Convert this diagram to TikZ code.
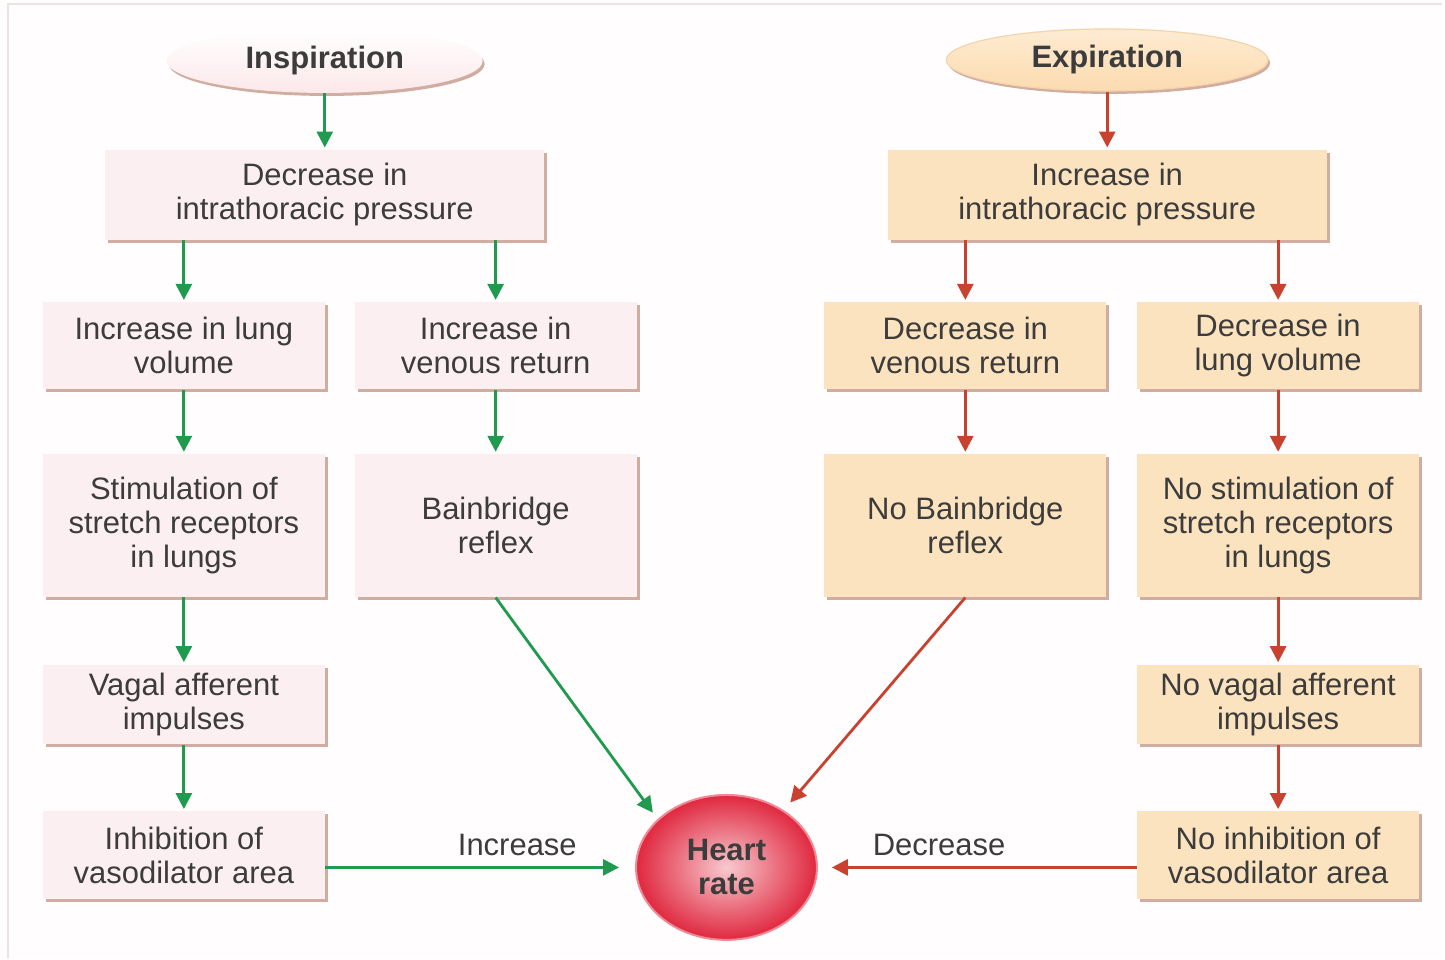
\documentclass[tikz,border=0pt]{standalone}
\usepackage{fontspec}
\setmainfont{Liberation Sans}
\usetikzlibrary{arrows.meta,positioning,shapes.geometric,shadows}

\definecolor{inspfill}{HTML}{FBEFF1}
\definecolor{expfill}{HTML}{FCE3BF}
\definecolor{inspline}{HTML}{1F9A4E}
\definecolor{expline}{HTML}{C9412F}
\definecolor{boxshadow}{HTML}{C9A092}
\definecolor{txt}{HTML}{3C3C3C}
\definecolor{heartred}{HTML}{E0283F}
\definecolor{framecol}{HTML}{EDE2E2}

\begin{document}
\begin{tikzpicture}[x=0.5pt,y=-0.5pt,node distance=90pt,on grid,shorten >=1pt,
		font=\fontsize{15.5}{17}\selectfont,text=txt]
		\tikzstyle{box}=[rectangle, align=center, inner sep=0pt, minimum width=141pt, minimum height=43.5pt,
			drop shadow={shadow xshift=1.5pt, shadow yshift=-1.5pt, fill=boxshadow, opacity=0.85}]
		\tikzstyle{insp box}=[box, fill=inspfill]
		\tikzstyle{exp box}=[box, fill=expfill]
		\tikzstyle{phase}=[ellipse, inner sep=0pt, font=\fontsize{15.5}{17}\selectfont\bfseries,
			drop shadow={shadow xshift=1pt, shadow yshift=-1.5pt, fill=boxshadow, opacity=0.85}]
		\tikzstyle{insp arrow}=[-{Triangle[length=8pt,width=8pt]}, line width=1.4pt, color=inspline]
		\tikzstyle{exp arrow}=[-{Triangle[length=8pt,width=8pt]}, line width=1.4pt, color=expline]
		% background and frame
		\fill[white!97!pink] (0,0) rectangle (1445,959);
		\draw[framecol, line width=1pt] (8,959) -- (8,4) -- (1445,4);
		\useasboundingbox (0,0) rectangle (1445,959);
		% inspiration side
		\node[insp box, minimum width=219.5pt, minimum height=45pt] (dec) at (325,195) {Decrease in\\intrathoracic pressure};
		\node[phase, top color=white, bottom color=inspfill!85!pink, minimum width=158pt, minimum height=32pt] (insp) [above=67pt of dec] {Inspiration};
		\node[insp box] (lung) at (184,346) {Increase in lung\\volume};
		\node[insp box] (venous) [right=156pt of lung] {Increase in\\venous return};
		\node[insp box, minimum height=71.5pt] (stim) [below=of lung] {Stimulation of\\stretch receptors\\in lungs};
		\node[insp box, minimum height=71.5pt] (bain) [below=of venous] {Bainbridge\\reflex};
		\node[insp box, minimum height=40pt] (vagal) [below=89.5pt of stim] {Vagal afferent\\impulses};
		\node[insp box, minimum height=44pt] (inhib) [below=75.5pt of vagal] {Inhibition of\\vasodilator area};
		% heart rate
		\node[ellipse, minimum width=90.5pt, minimum height=72.5pt, inner color=heartred!25!white, outer color=heartred,
			draw=heartred!55!white, line width=1pt, font=\fontsize{15.5}{17}\selectfont\bfseries, align=center] (heart) at (727,868) {Heart\\rate};
		% expiration side
		\node[exp box, minimum width=219.5pt, minimum height=45pt] (inc) at (1108,195) {Increase in\\intrathoracic pressure};
		\node[phase, top color=expfill!70!white, bottom color=expfill!92!orange, draw=expfill!85!brown, line width=0.6pt, minimum width=161pt, minimum height=31pt] (exp) [above=67.5pt of inc] {Expiration};
		\node[exp box] (dven) at (966,346) {Decrease in\\venous return};
		\node[exp box] (dlung) [right=156.5pt of dven] {Decrease in\\lung volume};
		\node[exp box, minimum height=71.5pt] (nobain) [below=of dven] {No Bainbridge\\reflex};
		\node[exp box, minimum height=71.5pt] (nostim) [below=of dlung] {No stimulation of\\stretch receptors\\in lungs};
		\node[exp box, minimum height=40pt] (novagal) [below=89.5pt of nostim] {No vagal afferent\\impulses};
		\node[exp box, minimum height=44pt] (noinhib) [below=75.5pt of novagal] {No inhibition of\\vasodilator area};
		\path[insp arrow]
		(insp) edge (dec)
		(dec.south -| lung) edge (lung)
		(dec.south -| venous) edge (venous)
		(lung) edge (stim)
		(stim) edge (vagal)
		(vagal) edge (inhib)
		(venous) edge (bain)
		(bain.south) edge [shorten >=4pt] (heart.145)
		(inhib.east |- heart) edge [shorten >=8pt] node [above=2pt, pos=0.62, text=txt] {Increase} (heart.west);
		\path[exp arrow]
		(exp) edge (inc)
		(inc.south -| dven) edge (dven)
		(inc.south -| dlung) edge (dlung)
		(dven) edge (nobain)
		(dlung) edge (nostim)
		(nostim) edge (novagal)
		(novagal) edge (noinhib)
		(nobain.south) edge [shorten >=5pt] (heart.45)
		(noinhib.west |- heart) edge [shorten >=7pt] node [above=2pt, pos=0.62, text=txt] {Decrease} (heart.east);
		;
	\end{tikzpicture}
\end{document}
